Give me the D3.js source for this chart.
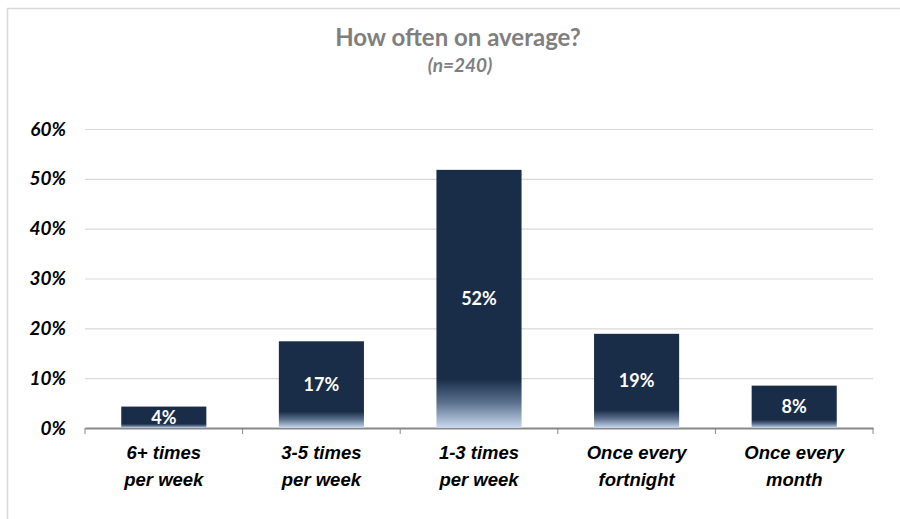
<!DOCTYPE html>
<html>
<head>
<meta charset="utf-8">
<script src="https://cdn.jsdelivr.net/npm/d3@7"></script>
<style>
  body { margin: 0; background: #fff; }
  svg { display: block; font-family: Lato, "Open Sans", sans-serif; }
</style>
</head>
<body>
<svg id="chart"></svg>
<script>
// values
let categories = [["6+ times", "per week"], ["3-5 times", "per week"], ["1-3 times", "per week"], ["Once every", "fortnight"], ["Once every", "month"]];
let values = [4.3, 17.4, 51.8, 18.9, 8.5];
let valueLabels = ["4%", "17%", "52%", "19%", "8%"];
let yTicks = [0, 10, 20, 30, 40, 50, 60];
let title = "How often on average?";
let subtitle = "(n=240)";

function getConfig(){
    let width = 900;
    let height = 519;
    let margin = { top: 129, bottom: 91, left: 85, right: 27 };
    let bodyWidth = width - margin.left - margin.right;
    let bodyHeight = height - margin.top - margin.bottom;
    let container = d3.select("#chart")
        .attr("width", width)
        .attr("height", height);
    return { width, height, margin, bodyWidth, bodyHeight, container };
}

function getScales(config){
    let { bodyWidth, bodyHeight } = config;
    let xScale = d3.scaleBand()
        .domain(categories.map(d => d.join(" ")))
        .range([0, bodyWidth])
        .paddingInner(0.46)
        .paddingOuter(0.23);
    let xBand = d3.scaleBand()
        .domain(categories.map(d => d.join(" ")))
        .range([0, bodyWidth]);
    let yScale = d3.scaleLinear()
        .domain([0, 60])
        .range([bodyHeight, 0]);
    return { xScale, xBand, yScale };
}

function drawFrame(config){
    let { container } = config;
    container.append("rect")
        .attr("x", 7.5).attr("y", 8.5)
        .attr("width", 1000).attr("height", 1000)
        .attr("fill", "none")
        .attr("stroke", "#d9d9d9")
        .attr("stroke-width", 1.5);
    container.append("text")
        .attr("x", 458).attr("y", 46)
        .attr("text-anchor", "middle")
        .style("font-size", "24px")
        .style("font-weight", "bold")
        .style("fill", "#7f7f7f")
        .text(title);
    container.append("text")
        .attr("x", 460).attr("y", 72)
        .attr("text-anchor", "middle")
        .style("font-size", "19px")
        .style("font-weight", "bold")
        .style("font-style", "italic")
        .style("fill", "#7f7f7f")
        .text(subtitle);
}

function drawAxes(scales, config){
    let { container, margin, bodyWidth, bodyHeight } = config;
    let { xBand, yScale } = scales;

    let axisY = d3.axisLeft(yScale)
        .tickValues(yTicks)
        .tickSize(-bodyWidth)
        .tickPadding(19)
        .tickFormat(d => d + "%");
    let gy = container.append("g")
        .attr("transform", `translate(${margin.left},${margin.top})`)
        .call(axisY);
    gy.select(".domain").remove();
    gy.selectAll(".tick line").attr("stroke", "#d9d9d9").attr("stroke-width", 1.2);
    gy.selectAll(".tick text")
        .style("font-size", "19px")
        .style("font-weight", "bold")
        .style("font-style", "italic")
        .style("fill", "#000")
        .style("font-family", "Lato, 'Open Sans', sans-serif");

    let axisX = d3.axisBottom(xBand)
        .tickValues([])
        .tickSizeOuter(0);
    let gx = container.append("g")
        .attr("transform", `translate(${margin.left},${margin.top + bodyHeight})`)
        .call(axisX);
    gx.select(".domain").attr("stroke", "#888").attr("stroke-width", 2);

    // boundary ticks between categories
    let bounds = xBand.domain().map(d => xBand(d)).concat([bodyWidth]);
    gx.selectAll(".bound")
        .data(bounds)
        .enter().append("line")
        .attr("x1", d => d).attr("x2", d => d)
        .attr("y1", 0).attr("y2", 6)
        .attr("stroke", "#888")
        .attr("stroke-width", 1);

    let labels = gx.selectAll(".cat")
        .data(categories)
        .enter().append("text")
        .attr("text-anchor", "middle")
        .attr("transform", d => `translate(${xBand(d.join(" ")) + xBand.bandwidth() / 2},0)`)
        .style("font-size", "18.5px")
        .style("font-weight", "bold")
        .style("font-style", "italic")
        .style("fill", "#000");
    labels.append("tspan").attr("x", 0).attr("y", 31).text(d => d[0]);
    labels.append("tspan").attr("x", 0).attr("y", 58).text(d => d[1]);
}

function drawBars(scales, config){
    let { container, margin, bodyHeight } = config;
    let { xScale, yScale } = scales;

    let defs = container.append("defs");
    let grad = defs.append("linearGradient")
        .attr("id", "barGrad")
        .attr("x1", 0).attr("y1", 0).attr("x2", 0).attr("y2", 1);
    grad.append("stop").attr("offset", "0.81").attr("stop-color", "#192d49");
    grad.append("stop").attr("offset", "0.9").attr("stop-color", "#5a6f8c");
    grad.append("stop").attr("offset", "1").attr("stop-color", "#c9daf0");

    let body = container.append("g")
        .attr("transform", `translate(${margin.left},${margin.top})`);
    let data = categories.map((c, i) => ({ key: c.join(" "), value: values[i], label: valueLabels[i] }));

    body.selectAll(".bar")
        .data(data)
        .enter().append("rect")
        .attr("class", "bar")
        .attr("x", d => xScale(d.key))
        .attr("y", d => yScale(d.value))
        .attr("width", xScale.bandwidth())
        .attr("height", d => bodyHeight - yScale(d.value))
        .attr("fill", "url(#barGrad)");

    body.selectAll(".bar-label")
        .data(data)
        .enter().append("text")
        .attr("class", "bar-label")
        .attr("x", d => xScale(d.key) + xScale.bandwidth() / 2)
        .attr("y", d => (yScale(d.value) + bodyHeight) / 2)
        .attr("dy", "0.36em")
        .attr("text-anchor", "middle")
        .style("font-size", "18px")
        .style("font-weight", "bold")
        .style("fill", "#fff")
        .text(d => d.label);
}

let config = getConfig();
let scales = getScales(config);
drawFrame(config);
drawAxes(scales, config);
drawBars(scales, config);
</script>
</body>
</html>
